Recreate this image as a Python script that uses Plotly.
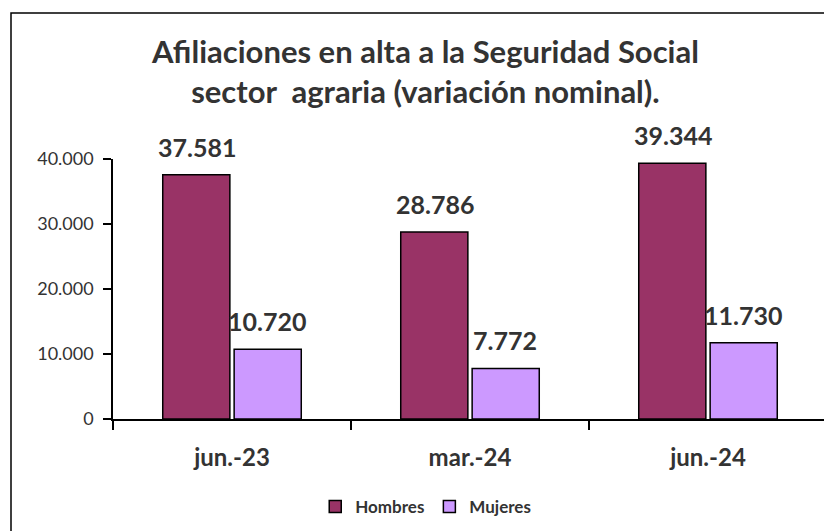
import plotly.graph_objects as go

categories = ["jun.-23", "mar.-24", "jun.-24"]
hombres = [37581, 28786, 39344]
mujeres = [10720, 7772, 11730]
series_names = ["Hombres", "Mujeres"]
y_ticks = [0, 10000, 20000, 30000, 40000]
title_lines = ["Afiliaciones en alta a la Seguridad Social",
               "sector\u00a0 agraria (variación nominal)."]

colors = ["#993366", "#CC99FF"]
FONT = "Lato"
TXT = "#333333"

def fmt(v):
    return f"{v:,}".replace(",", ".")

fig = go.Figure()
for name, vals, col in zip(series_names, [hombres, mujeres], colors):
    fig.add_trace(go.Bar(
        x=categories, y=vals, name=name,
        marker=dict(color=col, line=dict(color="black", width=1.5)),
        hoverinfo="skip",
    ))

offset = 0.147
annotations = []
for sign, vals in zip([-1, 1], [hombres, mujeres]):
    for i, v in enumerate(vals):
        annotations.append(dict(
            x=i + sign * offset, y=v, xref="x", yref="y",
            text=f"<b>{fmt(v)}</b>", showarrow=False,
            yanchor="bottom", yshift=11,
            font=dict(family=FONT, size=25, color=TXT),
        ))

annotations.append(dict(
    x=0.437, y=1.340, xref="paper", yref="paper",
    text="<b>" + "<br>".join(title_lines) + "</b>", showarrow=False,
    xanchor="center", yanchor="middle", align="center",
    font=dict(family=FONT, size=31, color=TXT),
))

# page body has an 8px margin, so the figure is sized to the visible area
fig.update_layout(
    width=824, height=523,
    margin=dict(l=105, r=5, t=151, b=112),
    paper_bgcolor="white", plot_bgcolor="white",
    separators=",.",
    barmode="group", bargap=0.40, bargroupgap=0.06,
    legend=dict(
        orientation="h", x=0.438, xanchor="center", y=-0.338, yanchor="middle",
        font=dict(family=FONT, size=17, color=TXT, weight="bold"),
        itemwidth=30, traceorder="normal",
    ),
    annotations=annotations,
    shapes=[dict(
        type="rect", xref="paper", yref="paper",
        x0=(11 - 113) / 714, x1=1.05, y0=-0.6, y1=(419 - 13) / 260,
        line=dict(color="black", width=1.5), fillcolor="rgba(0,0,0,0)",
        layer="below",
    )],
    showlegend=True,
)

fig.update_xaxes(
    showline=True, linecolor="black", linewidth=1.5,
    ticks="outside", tickson="boundaries", ticklen=9, tickwidth=1.5, tickcolor="black",
    tickfont=dict(family=FONT, size=24, color=TXT, weight="bold"),
    ticklabelstandoff=16,
    showgrid=False, zeroline=False,
)
fig.update_yaxes(
    range=[0, 40000], tickvals=y_ticks, tickformat=",.0f",
    showline=True, linecolor="black", linewidth=1.5,
    ticks="outside", ticklen=8, tickwidth=1.5, tickcolor="black",
    tickfont=dict(family=FONT, size=18, color=TXT),
    ticklabelstandoff=6,
    showgrid=False, zeroline=False,
)

fig.write_html("out.html")
